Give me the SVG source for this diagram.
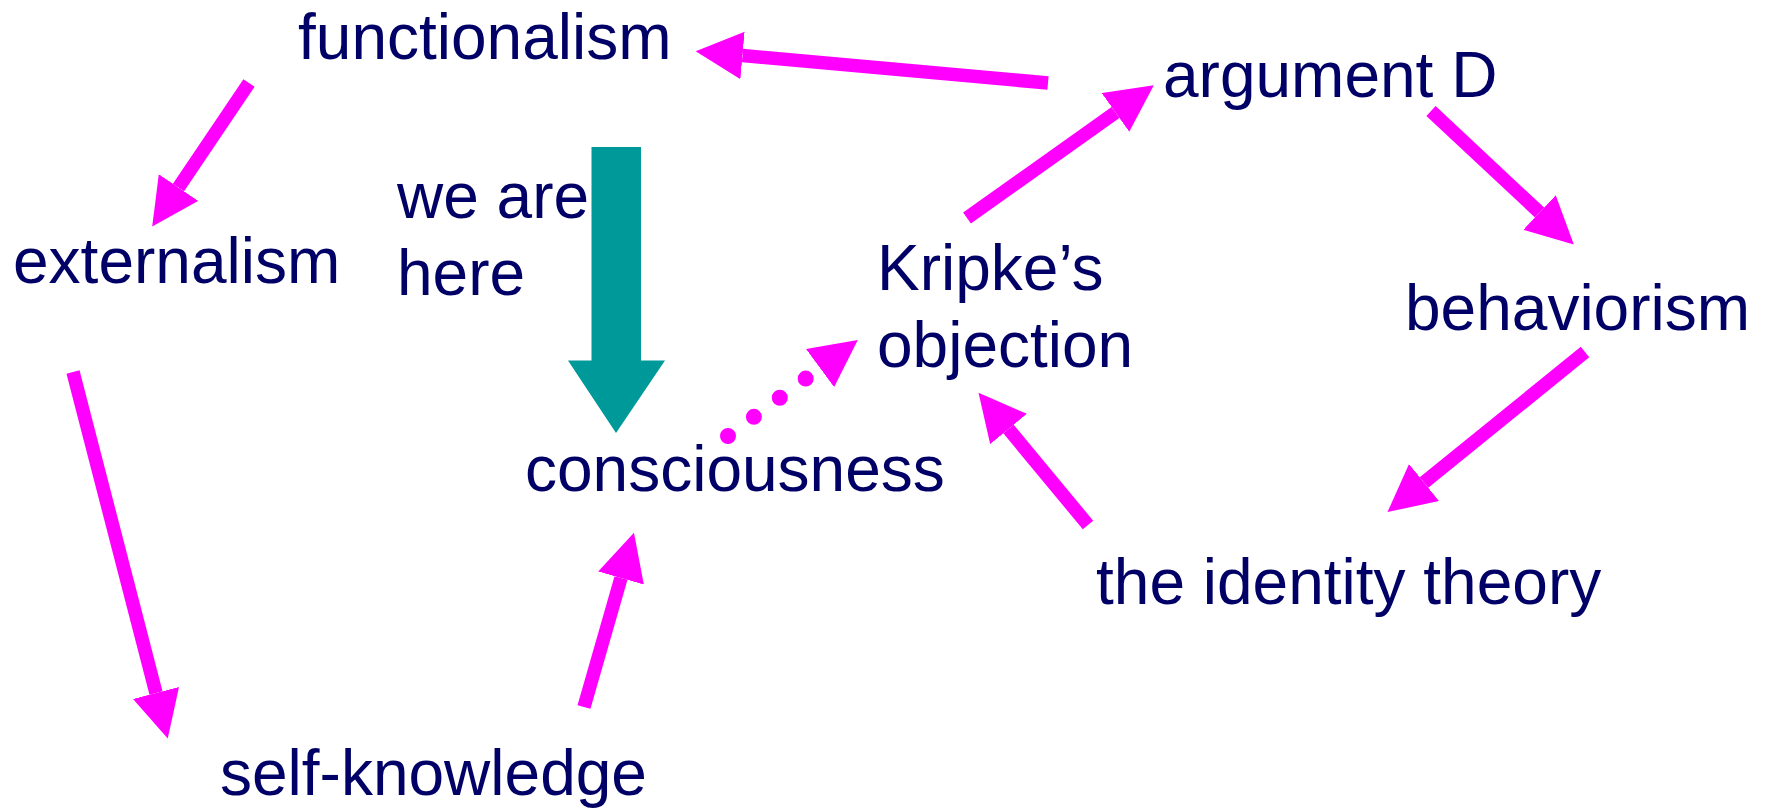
<svg xmlns="http://www.w3.org/2000/svg" width="1767" height="808" viewBox="0 0 1767 808">
<style>
.lbl{font-family:"Liberation Sans",Arial,sans-serif;font-size:64px;fill:#000066}
.cn{stroke:#FF00FF;stroke-width:13.5;fill:none;marker-end:url(#head)}
.dot{stroke-width:16;stroke-linecap:round;stroke-dasharray:0 32.2}
</style>
<defs>
<marker id="head" markerUnits="userSpaceOnUse" markerWidth="48" markerHeight="48" viewBox="0 0 48 48" refX="0" refY="23.75" orient="auto">
<path d="M0,0 L47,23.75 L0,47.5 z" fill="#FF00FF"/>
</marker>
</defs>
<rect width="1767" height="808" fill="#FFFFFF"/>
<g id="connectors">
<line class="cn" x1="1048" y1="83" x2="742.5" y2="55.5"/>
<line class="cn" x1="249" y1="83" x2="178.5" y2="187.5"/>
<line class="cn" x1="73" y1="372" x2="156" y2="693"/>
<line class="cn" x1="584" y1="707" x2="621" y2="578"/>
<line class="cn dot" x1="728" y1="436" x2="820" y2="368"/>
<line class="cn" x1="967" y1="218" x2="1115.5" y2="112.5"/>
<line class="cn" x1="1431" y1="111" x2="1539.5" y2="212.5"/>
<line class="cn" x1="1585" y1="352" x2="1424" y2="482.5"/>
<line class="cn" x1="1088" y1="525" x2="1008.5" y2="429"/>
</g>
<g id="here-arrow">
<polygon points="591.5,147 641,147 641,360.5 665,360.5 616,433 568,360.5 591.5,360.5" fill="#009999"/>
</g>
<g id="functionalism"><text class="lbl" x="298" y="59">functionalism</text></g>
<g id="argumentD"><text class="lbl" x="1163" y="97">argument D</text></g>
<g id="externalism"><text class="lbl" x="13" y="283">externalism</text></g>
<g id="we-are-here"><text class="lbl" x="397" y="218">we are</text><text class="lbl" x="397" y="295">here</text></g>
<g id="kripke"><text class="lbl" x="877" y="290">Kripke’s</text><text class="lbl" x="877" y="367">objection</text></g>
<g id="behaviorism"><text class="lbl" x="1405" y="330">behaviorism</text></g>
<g id="consciousness"><text class="lbl" x="525" y="491">consciousness</text></g>
<g id="identity"><text class="lbl" x="1096" y="604">the identity theory</text></g>
<g id="self-knowledge"><text class="lbl" x="220" y="795">self-knowledge</text></g>
</svg>
